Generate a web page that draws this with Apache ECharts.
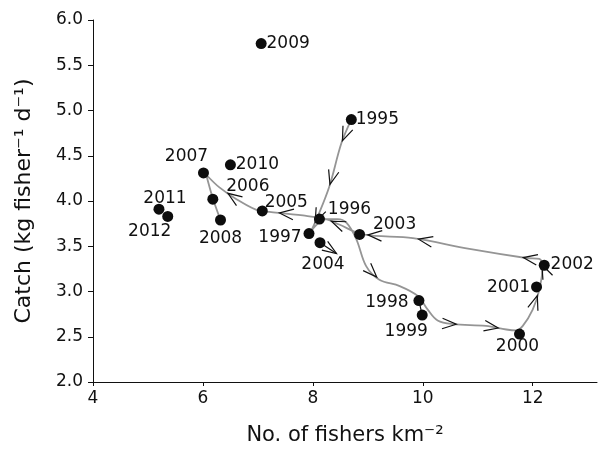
<!DOCTYPE html>
<html>
<head>
<meta charset="utf-8">
<script src="https://cdn.jsdelivr.net/npm/echarts@6/dist/echarts.min.js"></script>
<style>
  html, body { margin: 0; padding: 0; background: #fff; }
  #chart { width: 599px; height: 451px; }
</style>
</head>
<body>
<div id="chart"></div>
<script>
// ---- data ----
var years = ['1995','1996','1997','1998','1999','2000','2001','2002','2003','2004','2005','2006','2007','2008','2009','2010','2011','2012'];
var fishers = [8.70, 8.12, 7.93, 9.93, 9.99, 11.76, 12.07, 12.21, 8.85, 8.13, 7.08, 6.18, 6.01, 6.32, 7.06, 6.50, 5.20, 5.36];
var catchRate = [4.90, 3.80, 3.64, 2.90, 2.74, 2.53, 3.05, 3.29, 3.63, 3.54, 3.89, 4.02, 4.31, 3.79, 5.74, 4.40, 3.91, 3.83];

// smoothed trajectory (grey line)
var pathX = [8.70, 8.52, 8.30, 8.09, 7.97, 8.24, 8.45, 8.61, 8.79, 8.97, 9.21, 9.58, 9.91, 10.09, 10.27, 10.55, 11.15, 11.52, 11.70, 11.82, 12.00, 12.12, 12.18, 12.12, 11.88, 10.85, 9.82, 8.91, 8.48, 8.24, 7.82, 7.21, 7.03, 6.61, 6.30, 6.06, 6.18, 6.32];
var pathY = [4.90, 4.64, 4.16, 3.83, 3.67, 3.80, 3.80, 3.76, 3.58, 3.28, 3.13, 3.06, 2.95, 2.80, 2.68, 2.64, 2.62, 2.58, 2.57, 2.62, 2.80, 3.02, 3.28, 3.36, 3.37, 3.47, 3.59, 3.63, 3.74, 3.80, 3.84, 3.88, 3.89, 4.02, 4.15, 4.29, 4.03, 3.79];

// direction arrows: segment index along the trajectory and fraction along it
var arrowSeg = [0, 1, 3, 9, 15, 16, 20, 22, 24, 25, 26, 28, 30, 33];
var arrowFrac = [0.9, 0.95, 0.4, 0.8, 0.1, 0.6, 0.7, 0.2, 0.05, 0.9, 0.9, 0.6, 0.7, 0.5];

// extra black marks: 1998->1999 link, 2004 pointer end
var link1998 = ['1998', '1999'];
var pointer2004End = [8.43, 3.42];

var yTicks = [2.0, 2.5, 3.0, 3.5, 4.0, 4.5, 5.0, 5.5, 6.0];
var xTicks = [4, 6, 8, 10, 12];

// ---- label placements (pixel offsets from the dot) ----
var labelOffset = {
  '1995': [26, 0], '1996': [30, -10], '1997': [-29, 4], '1998': [-32, 2], '1999': [-16, 17],
  '2000': [-2, 13], '2001': [-28, 1], '2002': [28, -1], '2003': [35, -10], '2004': [3, 22],
  '2005': [24, -8], '2006': [35, -13], '2007': [-17, -16], '2008': [0, 19], '2009': [27, 0],
  '2010': [27, 0], '2011': [6, -11], '2012': [-18, 15]
};

var FONT = 'DejaVu Sans';
var INK = '#111';
var path = pathX.map(function (x, i) { return [x, pathY[i]]; });
var points = years.map(function (y, i) {
  return {
    value: [fishers[i], catchRate[i]],
    name: y,
    label: { offset: labelOffset[y] }
  };
});
var arrows = arrowSeg.map(function (s, i) { return [s, arrowFrac[i]]; });
var idx = function (y) { return years.indexOf(y); };

function chevron(tip, ang, L, phi) {
  return [
    [tip[0] - L * Math.cos(ang + phi), tip[1] - L * Math.sin(ang + phi)],
    tip,
    [tip[0] - L * Math.cos(ang - phi), tip[1] - L * Math.sin(ang - phi)]
  ];
}

var chart = echarts.init(document.getElementById('chart'), null, { renderer: 'canvas' });
chart.setOption({
  animation: false,
  backgroundColor: '#fff',
  textStyle: { fontFamily: FONT },
  grid: { left: 93, right: 2, top: 20, bottom: 68, containLabel: false },
  xAxis: {
    type: 'value', min: 4, max: 13.17, interval: 2,
    name: 'No. of fishers km\u207B\u00B2', nameLocation: 'middle', nameGap: 43,
    nameTextStyle: { fontSize: 21, color: INK, fontFamily: FONT },
    axisLine: { show: true, onZero: false, lineStyle: { color: INK, width: 1 } },
    axisTick: { show: true, length: 4, inside: false, customValues: xTicks, lineStyle: { color: INK } },
    axisLabel: { customValues: xTicks, fontSize: 17, color: INK, margin: 8, fontFamily: FONT },
    splitLine: { show: false }
  },
  yAxis: {
    type: 'value', min: 2, max: 6, interval: 0.5,
    name: 'Catch (kg fisher\u207B\u00B9 d\u207B\u00B9)', nameLocation: 'middle', nameGap: 58,
    nameTextStyle: { fontSize: 22, color: INK, fontFamily: FONT },
    axisLine: { show: true, onZero: false, lineStyle: { color: INK, width: 1 } },
    axisTick: { show: true, length: 5, lineStyle: { color: INK } },
    axisLabel: { customValues: yTicks, fontSize: 17, color: INK, margin: 10, fontFamily: FONT,
      formatter: function (v) { return v.toFixed(1); } },
    splitLine: { show: false }
  },
  series: [
    {
      type: 'line', data: path, smooth: 0.35, symbol: 'none', silent: true,
      lineStyle: { color: '#959595', width: 1.8 }, z: 2
    },
    {
      type: 'line', silent: true, symbol: 'none',
      data: link1998.map(function (y) { return [fishers[idx(y)], catchRate[idx(y)]]; }),
      lineStyle: { color: INK, width: 1.2 }, z: 3
    },
    {
      type: 'scatter', data: points, symbol: 'circle', symbolSize: 11, silent: true,
      itemStyle: { color: '#0d0d0d', opacity: 1 }, z: 4,
      label: {
        show: true, position: 'inside', align: 'center', verticalAlign: 'middle',
        formatter: '{b}', fontSize: 17, color: INK, fontFamily: FONT
      }
    },
    {
      type: 'custom', coordinateSystem: 'cartesian2d', data: arrows, silent: true, z: 5,
      renderItem: function (params, api) {
        var s = api.value(0), t = api.value(1);
        var a = api.coord(path[s]), b = api.coord(path[s + 1]);
        var tip = [a[0] + (b[0] - a[0]) * t, a[1] + (b[1] - a[1]) * t];
        var ang = Math.atan2(b[1] - a[1], b[0] - a[0]);
        return {
          type: 'polyline',
          shape: { points: chevron(tip, ang, 15, 0.36) },
          style: { stroke: INK, lineWidth: 1.2, fill: null }
        };
      }
    },
    {
      type: 'custom', coordinateSystem: 'cartesian2d', silent: true, z: 5,
      data: [[fishers[idx('2004')], catchRate[idx('2004')], pointer2004End[0], pointer2004End[1]]],
      renderItem: function (params, api) {
        var a = api.coord([api.value(0), api.value(1)]);
        var b = api.coord([api.value(2), api.value(3)]);
        var ang = Math.atan2(b[1] - a[1], b[0] - a[0]);
        return {
          type: 'group',
          children: [
            { type: 'line', shape: { x1: a[0], y1: a[1], x2: b[0], y2: b[1] }, style: { stroke: INK, lineWidth: 1.2 } },
            { type: 'polyline', shape: { points: chevron(b, ang, 15, 0.36) }, style: { stroke: INK, lineWidth: 1.2, fill: null } }
          ]
        };
      }
    }
  ]
});
</script>
</body>
</html>
